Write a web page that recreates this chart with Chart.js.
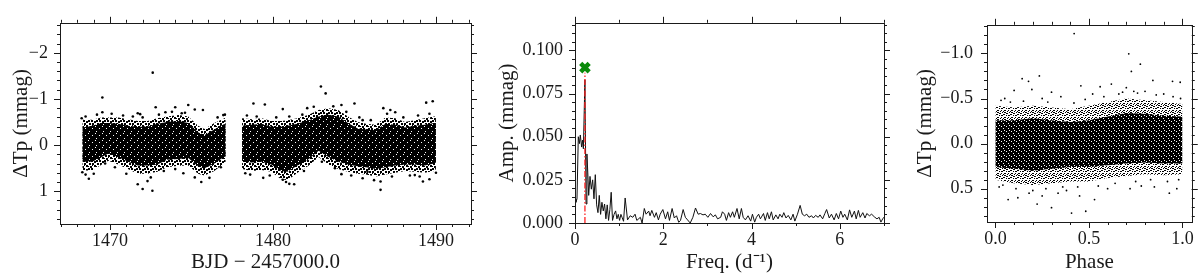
<!DOCTYPE html>
<html>
<head>
<meta charset="utf-8">
<script src="https://cdn.jsdelivr.net/npm/chart.js@4.4.1/dist/chart.umd.min.js"></script>
<style>
  body { margin: 0; background: #fff; }
  .panel { position: absolute; top: 0; }
</style>
</head>
<body>
<canvas id="lc" class="panel" style="left:0px" width="480" height="275"></canvas>
<canvas id="ft" class="panel" style="left:480px" width="420" height="275"></canvas>
<canvas id="ph" class="panel" style="left:900px" width="300" height="275"></canvas>
<script>
// ---- light curve (BJD - 2457000) : band edges ----
const seg1Times = [1468.3, 1468.9, 1469.5, 1469.9, 1470.5, 1471.1, 1471.7, 1472.3, 1472.9, 1473.5, 1474.2, 1474.8, 1475.4, 1475.8, 1476.4, 1476.9, 1477.1];
const seg1OuterTop = [-0.55, -0.55, -0.60, -0.60, -0.60, -0.56, -0.52, -0.52, -0.58, -0.62, -0.65, -0.62, -0.42, -0.35, -0.48, -0.56, -0.60];
const seg1CoreTop = [-0.38, -0.42, -0.48, -0.48, -0.46, -0.42, -0.40, -0.40, -0.46, -0.50, -0.52, -0.48, -0.28, -0.22, -0.34, -0.44, -0.46];
const seg1CoreBot = [0.36, 0.36, 0.26, 0.18, 0.26, 0.36, 0.44, 0.44, 0.42, 0.32, 0.30, 0.28, 0.46, 0.50, 0.40, 0.28, 0.24];
const seg1OuterBot = [0.55, 0.55, 0.42, 0.34, 0.42, 0.52, 0.62, 0.62, 0.58, 0.48, 0.45, 0.44, 0.62, 0.66, 0.56, 0.42, 0.36];

const seg2Times = [1478.1, 1478.7, 1479.3, 1479.9, 1480.5, 1480.9, 1481.5, 1482.2, 1482.8, 1483.4, 1484.0, 1484.6, 1485.2, 1485.7, 1486.3, 1486.9, 1487.5, 1488.1, 1488.7, 1489.3, 1489.9, 1490.0];
const seg2OuterTop = [-0.58, -0.56, -0.58, -0.52, -0.52, -0.54, -0.58, -0.66, -0.76, -0.80, -0.76, -0.62, -0.50, -0.46, -0.44, -0.60, -0.58, -0.50, -0.54, -0.58, -0.62, -0.62];
const seg2CoreTop = [-0.42, -0.44, -0.46, -0.40, -0.40, -0.42, -0.46, -0.54, -0.62, -0.66, -0.62, -0.48, -0.36, -0.34, -0.32, -0.46, -0.44, -0.38, -0.42, -0.44, -0.48, -0.48];
const seg2CoreBot = [0.36, 0.38, 0.36, 0.42, 0.56, 0.58, 0.44, 0.30, 0.12, 0.26, 0.36, 0.42, 0.46, 0.48, 0.52, 0.48, 0.44, 0.42, 0.42, 0.44, 0.40, 0.38];
const seg2OuterBot = [0.52, 0.56, 0.54, 0.58, 0.74, 0.76, 0.60, 0.44, 0.26, 0.42, 0.52, 0.58, 0.62, 0.64, 0.68, 0.64, 0.60, 0.56, 0.58, 0.60, 0.56, 0.52];

// single points outside / on the edge of the band
const lcDotTimes = [1472.62, 1482.94, 1483.23, 1469.53, 1469.53, 1471.7, 1471.85, 1472.8, 1473.4, 1474.0, 1474.4, 1474.8, 1475.2, 1475.7, 1476.95, 1468.26,
  1468.7, 1471.7, 1472.0, 1472.6, 1472.3, 1474.5, 1475.6, 1476.1, 1468.3, 1469.0,
  1478.8, 1479.5, 1480.6, 1482.1, 1482.5, 1484.2, 1485.0, 1478.3, 1479.4, 1480.6, 1480.8, 1481.3, 1484.2,
  1486.77, 1487.2, 1487.5, 1489.4, 1489.8, 1485.5, 1486.6, 1486.6, 1489.2, 1489.6, 1485.8, 1488.7,
  1468.5, 1469.2, 1470.1, 1470.8, 1471.4, 1472.0, 1473.0, 1473.8, 1474.6, 1476.6, 1477.05, 1478.4, 1479.0, 1480.2, 1481.0, 1481.8, 1483.7, 1484.5, 1485.3, 1486.0, 1487.0, 1488.0, 1488.9, 1489.6,
  1468.5, 1469.7, 1470.3, 1471.0, 1472.5, 1473.3, 1474.0, 1475.2, 1476.8, 1478.6, 1479.8, 1481.0, 1481.9, 1483.0, 1483.8, 1484.8, 1485.5, 1486.2, 1487.3, 1488.4, 1489.0, 1490.0];
const lcDotValues = [-1.57, -1.27, -1.12, -1.03, -0.71, -0.69, -0.67, -0.82, -0.71, -0.82, -0.69, -0.87, -0.77, -0.76, -0.65, -0.58,
  0.73, 0.85, 0.95, 0.99, 0.78, 0.61, 0.80, 0.71, 0.59, 0.62,
  -0.90, -0.88, -0.78, -0.80, -0.83, -0.87, -0.90, 0.61, 0.71, 0.75, 0.80, 0.85, 0.63,
  -0.80, -0.76, -0.71, -0.92, -0.95, -0.54, 0.97, 0.79, 0.79, 0.74, 0.58, 0.65,
  -0.62, -0.66, -0.68, -0.64, -0.62, -0.60, -0.66, -0.72, -0.70, -0.60, -0.66, -0.64, -0.62, -0.60, -0.62, -0.66, -0.84, -0.72, -0.60, -0.54, -0.68, -0.60, -0.64, -0.68,
  0.64, 0.40, 0.48, 0.62, 0.70, 0.56, 0.52, 0.70, 0.48, 0.64, 0.66, 0.84, 0.56, 0.36, 0.50, 0.66, 0.72, 0.76, 0.68, 0.66, 0.68, 0.60];
const lcXTicks = [1470, 1480, 1490];
const lcYTicks = [-2, -1, 0, 1];

// ---- amplitude spectrum ----
const freqs = [0.00, 0.02, 0.045, 0.075, 0.10, 0.12, 0.15, 0.17, 0.19, 0.225, 0.25, 0.27, 0.29, 0.31, 0.34, 0.37, 0.40, 0.43, 0.46, 0.49,
  0.52, 0.55, 0.58, 0.61, 0.64, 0.67, 0.70, 0.73, 0.76, 0.79, 0.82, 0.85, 0.885, 0.92, 0.95, 0.98, 1.01, 1.04, 1.07, 1.10,
  1.136, 1.19, 1.25, 1.31, 1.36, 1.40, 1.48, 1.52, 1.57, 1.61, 1.67, 1.70, 1.74, 1.80, 1.84, 1.89, 1.93, 1.99, 2.05, 2.10,
  2.14, 2.20, 2.25, 2.30, 2.35, 2.39, 2.45, 2.50, 2.55, 2.61, 2.67, 2.73, 2.79, 2.84, 2.90, 2.95, 3.01, 3.07, 3.13, 3.18,
  3.23, 3.30, 3.34, 3.39, 3.43, 3.48, 3.52, 3.57, 3.61, 3.67, 3.72, 3.77, 3.81, 3.86, 3.92, 3.98, 4.02, 4.07, 4.11, 4.16,
  4.20, 4.27, 4.31, 4.36, 4.40, 4.45, 4.49, 4.55, 4.60, 4.64, 4.69, 4.73, 4.78, 4.83, 4.89, 4.94, 4.98, 5.04, 5.10, 5.15,
  5.20, 5.25, 5.30, 5.36, 5.40, 5.45, 5.51, 5.55, 5.61, 5.66, 5.70, 5.76, 5.81, 5.87, 5.92, 5.97, 6.02, 6.07, 6.11, 6.17,
  6.22, 6.27, 6.33, 6.37, 6.42, 6.46, 6.52, 6.57, 6.61, 6.67, 6.72, 6.78, 6.84, 6.89, 6.93, 6.97, 7.01];
const amps = [0.014, 0.012, 0.014, 0.050, 0.046, 0.051, 0.044, 0.048, 0.043, 0.083, 0.011, 0.040, 0.029, 0.016, 0.027, 0.0196, 0.025, 0.014, 0.028, 0.0105,
  0.006, 0.016, 0.005, 0.012, 0.007, 0.011, 0.0024, 0.0105, 0.0015, 0.0078, 0.0178, 0.0015, 0.005, 0.007, 0.0024, 0.005, 0.0015, 0.005, 0.003, 0.001,
  0.0145, 0.0018, 0.0042, 0.0033, 0.0051, 0.0015, 0.0033, 0.0, 0.0084, 0.0051, 0.0069, 0.0042, 0.0073, 0.0033, 0.006, 0.0018, 0.0051, 0.0078, 0.0024, 0.0065,
  0.0015, 0.0084, 0.0029, 0.0042, 0.0004, 0.0015, 0.0078, 0.0033, 0.0018, 0.0, 0.0033, 0.0087, 0.0051, 0.0055, 0.0047, 0.0051, 0.0033, 0.0055, 0.0036, 0.0047,
  0.0024, 0.0033, 0.0065, 0.0051, 0.0015, 0.006, 0.0033, 0.0065, 0.0033, 0.0084, 0.0024, 0.0084, 0.0033, 0.0018, 0.0042, 0.0011, 0.0051, 0.0005, 0.0033, 0.0051,
  0.0024, 0.0055, 0.0015, 0.006, 0.0024, 0.0065, 0.0018, 0.0047, 0.0024, 0.0051, 0.0033, 0.006, 0.0029, 0.0044, 0.0018, 0.0051, 0.0011, 0.0051, 0.0102, 0.0051,
  0.0042, 0.0051, 0.0033, 0.0042, 0.0029, 0.0044, 0.0033, 0.0047, 0.0024, 0.0055, 0.0078, 0.0029, 0.0051, 0.0018, 0.0055, 0.0024, 0.0069, 0.0033, 0.0051, 0.0018,
  0.0076, 0.0033, 0.0069, 0.0024, 0.0073, 0.0033, 0.006, 0.0029, 0.0055, 0.0042, 0.0051, 0.0036, 0.0024, 0.0033, 0.0005, 0.0024, 0.0036];
const peakFreq = 0.225;
const peakMarkAmp = 0.090;
const peakLineAmp = 0.087;
const ftXTicks = [0, 2, 4, 6];
const ftYTicks = [0, 0.025, 0.05, 0.075, 0.1];

// ---- phase-folded curve ----
const phases = [0.0, 0.1, 0.2, 0.3, 0.4, 0.5, 0.6, 0.7, 0.8, 0.9, 1.0];
const phOuterTop = [-0.42, -0.40, -0.42, -0.40, -0.38, -0.42, -0.46, -0.50, -0.48, -0.46, -0.44];
const phCoreTop = [-0.26, -0.26, -0.28, -0.26, -0.24, -0.26, -0.30, -0.34, -0.33, -0.31, -0.30];
const phCoreBot = [0.26, 0.28, 0.30, 0.28, 0.26, 0.26, 0.24, 0.22, 0.21, 0.22, 0.22];
const phOuterBot = [0.40, 0.44, 0.46, 0.44, 0.42, 0.42, 0.38, 0.36, 0.34, 0.35, 0.34];
const phDotPhases = [0.421, 0.713, 0.775, 0.727, 0.235, 0.143, 0.177, 0.842, 0.947, 0.988, 0.10, 0.195, 0.457, 0.62, 0.56, 0.30, 0.05, 0.70, 0.80, 0.90, 0.35, 0.66, 0.25, 0.52, 0.74,
  0.407, 0.483, 0.30, 0.223, 0.068, 0.12, 0.53, 0.93, 0.335, 0.18, 0.25, 0.45, 0.60, 0.72, 0.85, 0.97, 0.02, 0.38, 0.78,
  0.03, 0.08, 0.15, 0.28, 0.42, 0.48, 0.58, 0.68, 0.76, 0.86, 0.95, 0.99,
  0.04, 0.11, 0.20, 0.27, 0.36, 0.44, 0.55, 0.64, 0.75, 0.83, 0.92, 0.98];
const phDotValues = [-1.22, -0.995, -0.88, -0.80, -0.75, -0.72, -0.69, -0.70, -0.69, -0.68, -0.59, -0.60, -0.64, -0.66, -0.63, -0.57, -0.50, -0.62, -0.58, -0.55, -0.52, -0.55, -0.50, -0.55, -0.58,
  0.77, 0.75, 0.71, 0.67, 0.62, 0.60, 0.62, 0.55, 0.55, 0.55, 0.58, 0.58, 0.50, 0.50, 0.48, 0.50, 0.48, 0.52, 0.47,
  -0.48, -0.46, -0.47, -0.46, -0.45, -0.49, -0.52, -0.57, -0.56, -0.54, -0.52, -0.50,
  0.46, 0.50, 0.52, 0.50, 0.48, 0.48, 0.47, 0.44, 0.42, 0.40, 0.42, 0.40];
const phXTicks = [0, 0.5, 1];
const phYTicks = [-1, -0.5, 0, 0.5];

const tickFont = { family: 'Liberation Serif', size: 18 };
const titleFont = { family: 'Liberation Serif', size: 21 };
const ink = '#1a1a1a';

const pts = (xs, ys) => xs.map((x, i) => ({ x: x, y: ys[i] }));
const minus = (s) => s.replace('-', '\u2212');

// small stipple tiles so the dense point cloud reads as dots, not a flat grey
const stipple = (size, bg, fg, cells) => {
  const c = document.createElement('canvas');
  c.width = size; c.height = size;
  const g = c.getContext('2d');
  if (bg) { g.fillStyle = bg; g.fillRect(0, 0, size, size); }
  g.fillStyle = fg;
  cells.forEach(([cx, cy, w]) => g.fillRect(cx, cy, w, w));
  return g.createPattern(c, 'repeat');
};
const lcOuterFill = stipple(8, null, '#000', [[0, 0, 2], [3, 0, 2], [6, 1, 2], [1, 3, 2], [4, 3, 2], [6, 5, 2], [2, 6, 2], [4, 5, 1], [0, 6, 1]]);
const lcCoreFill = stipple(7, '#000', '#fff', [[1, 2, 1], [5, 5, 1], [4, 0, 1]]);
const phOuterFill = stipple(7, null, '#000', [[0, 0, 1], [4, 0, 1], [2, 1, 1], [6, 2, 1], [5, 2, 1], [1, 3, 1], [4, 3, 1], [3, 5, 1], [0, 5, 1], [6, 5, 1], [2, 6, 1], [5, 6, 1], [1, 1, 1], [3, 3, 1], [6, 0, 1]]);
const phCoreFill = stipple(5, '#000', '#fff', [[1, 1, 1], [3, 3, 1], [4, 0, 1]]);

// two line datasets with the fill between them
const band = (xs, top, bot, color, order) => [
  { type: 'line', data: pts(xs, top), borderColor: 'rgba(0,0,0,0)', pointRadius: 0, fill: false, order: order },
  { type: 'line', data: pts(xs, bot), borderColor: 'rgba(0,0,0,0)', pointRadius: 0, fill: '-1', backgroundColor: color, order: order }
];

// box round the plot area with outward major/minor ticks on all four sides
const frameTicks = {
  id: 'frameTicks',
  afterDraw(chart, args, opts) {
    const { ctx, chartArea: a, scales } = chart;
    const x = scales.x, y = scales.y;
    ctx.save();
    ctx.strokeStyle = ink;
    ctx.lineWidth = 1;
    ctx.strokeRect(Math.round(a.left) + 0.5, Math.round(a.top) + 0.5, Math.round(a.right - a.left), Math.round(a.bottom - a.top));
    const minors = (scale, step) => {
      const out = [];
      const lo = Math.min(scale.min, scale.max), hi = Math.max(scale.min, scale.max);
      for (let k = Math.ceil(lo / step - 1e-9); k * step <= hi + 1e-9; k++) out.push(k * step);
      return out;
    };
    const drawX = (vals, len) => vals.forEach(v => {
      const px = Math.round(x.getPixelForValue(v)) + 0.5;
      ctx.beginPath();
      ctx.moveTo(px, a.bottom); ctx.lineTo(px, a.bottom + len);
      ctx.moveTo(px, a.top); ctx.lineTo(px, a.top - len);
      ctx.stroke();
    });
    const drawY = (vals, len) => vals.forEach(v => {
      const py = Math.round(y.getPixelForValue(v)) + 0.5;
      ctx.beginPath();
      ctx.moveTo(a.left, py); ctx.lineTo(a.left - len, py);
      ctx.moveTo(a.right, py); ctx.lineTo(a.right + len, py);
      ctx.stroke();
    });
    drawX(minors(x, opts.xMinor), 3);
    drawY(minors(y, opts.yMinor), 3);
    drawX(x.ticks.map(t => t.value), 6);
    drawY(y.ticks.map(t => t.value), 6);
    ctx.restore();
  }
};

const axis = (min, max, ticks, fmt, title, titlePad, extra) => Object.assign({
  type: 'linear',
  min: min,
  max: max,
  afterBuildTicks: s => { s.ticks = ticks.map(v => ({ value: v })); },
  grid: { display: false, drawTicks: false },
  border: { display: false },
  ticks: { font: tickFont, color: ink, callback: fmt, maxRotation: 0, autoSkip: false },
  title: { display: true, text: title, font: titleFont, color: ink, padding: titlePad }
}, extra);

const baseOptions = (padRight, xAxis, yAxis, minor) => ({
  responsive: false,
  animation: false,
  devicePixelRatio: 1,
  layout: { padding: { top: 10, right: padRight, left: 0, bottom: 0 } },
  plugins: { legend: { display: false }, tooltip: { enabled: false }, frameTicks: minor },
  scales: { x: xAxis, y: yAxis }
});

// ---- panel 1 ----
const lcX = axis(1466.93, 1492.15, lcXTicks, v => String(v), 'BJD \u2212 2457000.0', { top: 0, bottom: 0 },
  { afterFit: s => { s.height = 51; } });
lcX.ticks.padding = 6;
const lcY = axis(-2.65, 1.71, lcYTicks, v => minus(String(v)), '\u0394Tp (mmag)', { top: 9, bottom: 0 },
  { reverse: true, afterFit: s => { s.width = 60; } });
lcY.ticks.padding = 12;

new Chart(document.getElementById('lc'), {
  type: 'scatter',
  data: {
    datasets: [
      { data: pts(lcDotTimes, lcDotValues), backgroundColor: '#000', borderWidth: 0, pointRadius: 1.3, order: 0 },
      ...band(seg1Times, seg1CoreTop, seg1CoreBot, lcCoreFill, 1),
      ...band(seg2Times, seg2CoreTop, seg2CoreBot, lcCoreFill, 1),
      ...band(seg1Times, seg1OuterTop, seg1OuterBot, lcOuterFill, 2),
      ...band(seg2Times, seg2OuterTop, seg2OuterBot, lcOuterFill, 2)
    ]
  },
  options: baseOptions(9, lcX, lcY, { xMinor: 1, yMinor: 0.2 }),
  plugins: [frameTicks]
});

// ---- panel 2 ----
const ftX = axis(0, 7, ftXTicks, v => String(v), 'Freq. (d\u207B\u00B9)', { top: 0, bottom: 0 },
  { afterFit: s => { s.height = 52; } });
ftX.ticks.padding = 6;
const ftY = axis(0, 0.116, ftYTicks, v => v.toFixed(3), 'Amp. (mmag)', { top: 15, bottom: 0 },
  { afterFit: s => { s.width = 95; } });
ftY.ticks.padding = 12;

new Chart(document.getElementById('ft'), {
  type: 'scatter',
  data: {
    datasets: [
      { data: [{ x: peakFreq, y: peakMarkAmp }], pointStyle: 'crossRot', pointRadius: 6, borderWidth: 4.5, borderColor: '#0a8a0a', order: 0 },
      { type: 'line', data: [{ x: peakFreq, y: 0 }, { x: peakFreq, y: peakLineAmp }], borderColor: '#ff2020', borderWidth: 1.3, borderDash: [6, 2, 1.5, 2], pointRadius: 0, order: 1 },
      { type: 'line', data: pts(freqs, amps), borderColor: '#111', borderWidth: 1, pointRadius: 0, tension: 0, order: 2 }
    ]
  },
  options: baseOptions(16, ftX, ftY, { xMinor: 1, yMinor: 0.005 }),
  plugins: [frameTicks]
});

// ---- panel 3 ----
const phX = axis(-0.045, 1.05, phXTicks, v => v.toFixed(1), 'Phase', { top: 0, bottom: 0 },
  { afterFit: s => { s.height = 53; } });
phX.ticks.padding = 6;
const phY = axis(-1.317, 0.869, phYTicks, v => minus(v.toFixed(1)), '\u0394Tp (mmag)', { top: 13, bottom: 0 },
  { reverse: true, afterFit: s => { s.width = 87; } });
phY.ticks.padding = 14;

new Chart(document.getElementById('ph'), {
  type: 'scatter',
  data: {
    datasets: [
      { data: pts(phDotPhases, phDotValues), backgroundColor: '#000', borderWidth: 0, pointRadius: 0.9, order: 0 },
      ...band(phases, phCoreTop, phCoreBot, phCoreFill, 1),
      ...band(phases, phOuterTop, phOuterBot, phOuterFill, 2)
    ]
  },
  options: baseOptions(7, phX, phY, { xMinor: 0.1, yMinor: 0.1 }),
  plugins: [frameTicks]
});
</script>
</body>
</html>
